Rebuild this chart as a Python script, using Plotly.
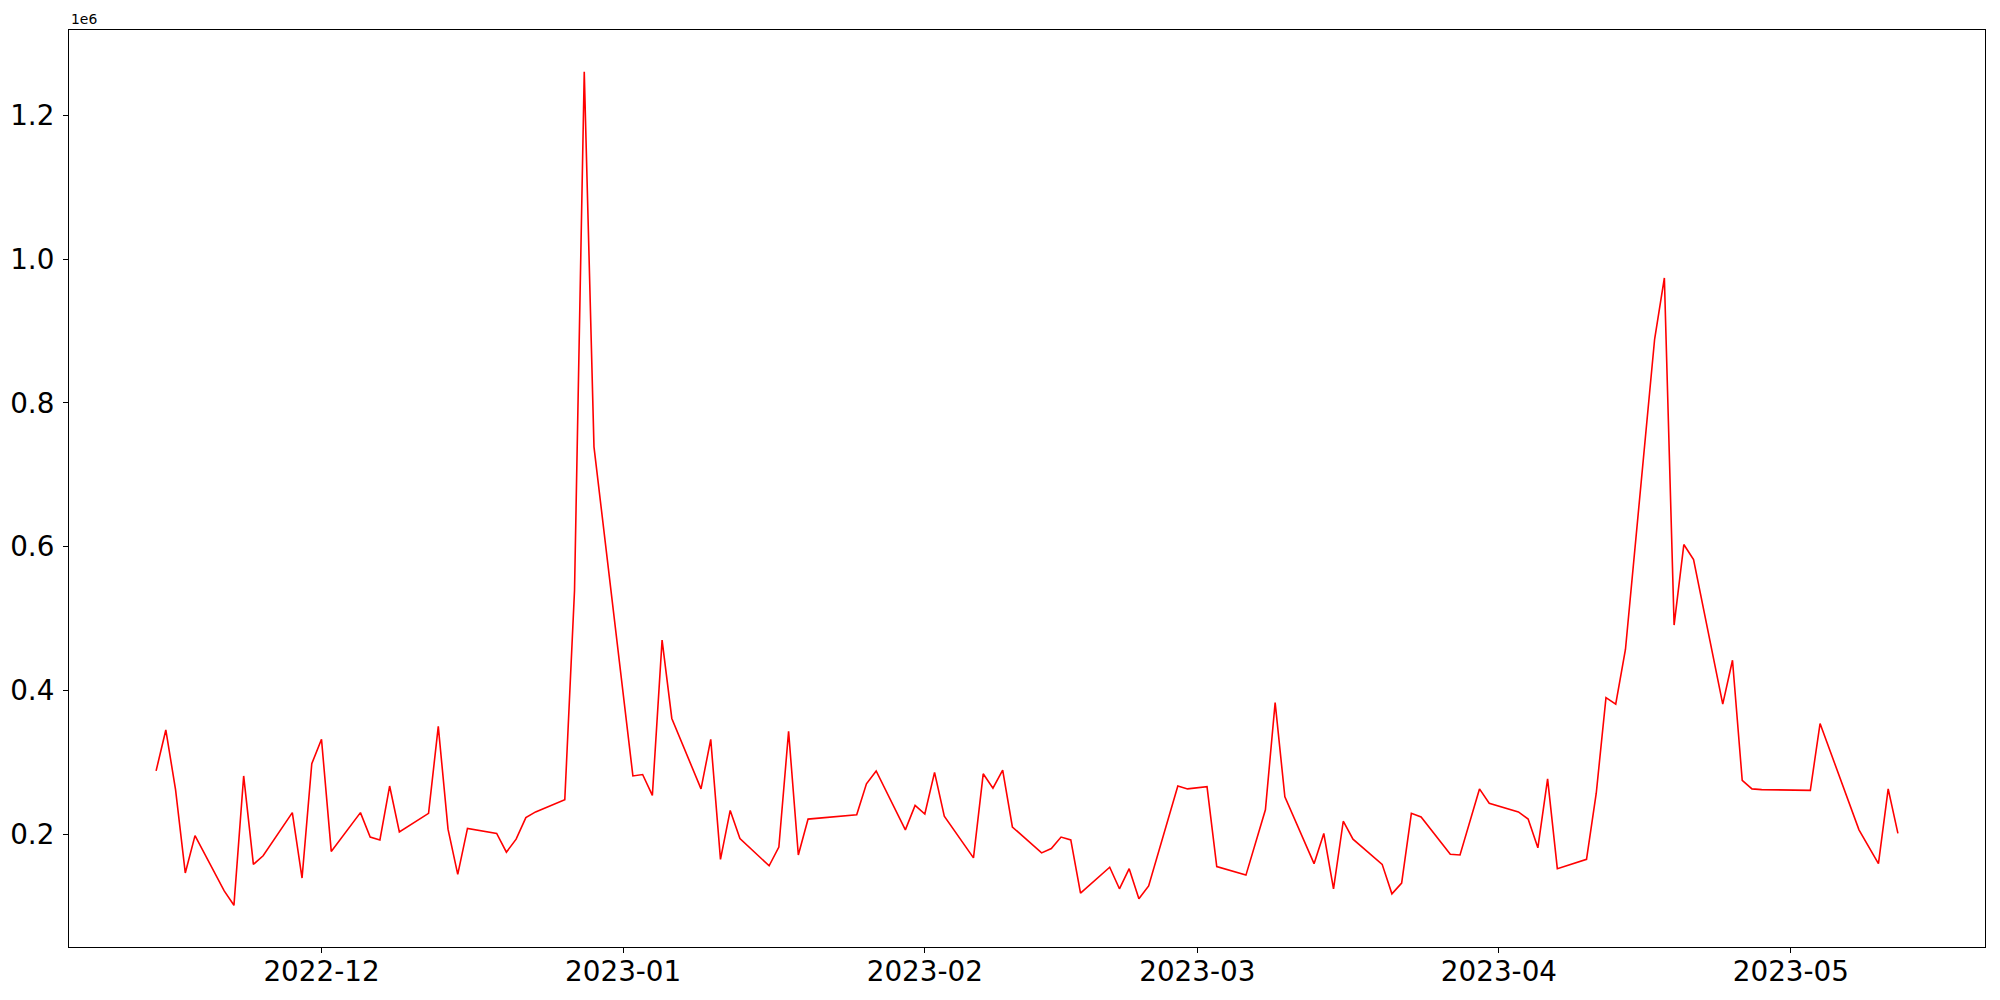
import pandas as pd
import plotly.graph_objects as go

# daily values (trading days only)
dates = [
    "2022-11-14", "2022-11-15", "2022-11-16", "2022-11-17", "2022-11-18",
    "2022-11-21", "2022-11-22", "2022-11-23", "2022-11-24", "2022-11-25",
    "2022-11-28", "2022-11-29", "2022-11-30", "2022-12-01", "2022-12-02",
    "2022-12-05", "2022-12-06", "2022-12-07", "2022-12-08", "2022-12-09",
    "2022-12-12", "2022-12-13", "2022-12-14", "2022-12-15", "2022-12-16",
    "2022-12-19", "2022-12-20", "2022-12-21", "2022-12-22", "2022-12-23",
    "2022-12-26", "2022-12-27", "2022-12-28", "2022-12-29",
    "2023-01-02", "2023-01-03", "2023-01-04", "2023-01-05", "2023-01-06",
    "2023-01-09", "2023-01-10", "2023-01-11", "2023-01-12", "2023-01-13",
    "2023-01-16", "2023-01-17", "2023-01-18", "2023-01-19", "2023-01-20",
    "2023-01-25", "2023-01-26", "2023-01-27",
    "2023-01-30", "2023-01-31", "2023-02-01", "2023-02-02", "2023-02-03",
    "2023-02-06", "2023-02-07", "2023-02-08", "2023-02-09", "2023-02-10",
    "2023-02-13", "2023-02-14", "2023-02-15", "2023-02-16", "2023-02-17",
    "2023-02-20", "2023-02-21", "2023-02-22", "2023-02-23", "2023-02-24",
    "2023-02-27", "2023-02-28", "2023-03-02", "2023-03-03",
    "2023-03-06", "2023-03-08", "2023-03-09", "2023-03-10",
    "2023-03-13", "2023-03-14", "2023-03-15", "2023-03-16", "2023-03-17",
    "2023-03-20", "2023-03-21", "2023-03-22", "2023-03-23", "2023-03-24",
    "2023-03-27", "2023-03-28", "2023-03-30", "2023-03-31",
    "2023-04-03", "2023-04-04", "2023-04-05", "2023-04-06", "2023-04-07",
    "2023-04-10", "2023-04-11", "2023-04-12", "2023-04-13", "2023-04-14",
    "2023-04-17", "2023-04-18", "2023-04-19", "2023-04-20", "2023-04-21",
    "2023-04-24", "2023-04-25", "2023-04-26", "2023-04-27", "2023-04-28",
    "2023-05-03", "2023-05-04", "2023-05-08", "2023-05-10", "2023-05-11",
    "2023-05-12",
]

values = [
    288000, 345000, 262000, 146000, 198000,
    121000, 101000, 281000, 158000, 170000,
    230000, 139000, 298000, 332000, 176000,
    230000, 196000, 192000, 267000, 203000,
    229000, 350000, 207000, 144000, 208000,
    201000, 175000, 193000, 223000, 231000,
    248000, 539000, 1261000, 739000,
    281000, 283000, 254000, 470000, 361000,
    263000, 332000, 165000, 233000, 194000,
    156000, 182000, 343000, 171000, 221000,
    227000, 270000, 288000,
    206000, 240000, 228000, 286000, 225000,
    167000, 284000, 264000, 289000, 210000,
    174000, 180000, 196000, 192000, 118000,
    154000, 124000, 152000, 110000, 128000,
    267000, 263000, 266000, 155000,
    143000, 234000, 383000, 252000,
    159000, 201000, 124000, 218000, 193000,
    158000, 117000, 132000, 229000, 224000,
    172000, 171000, 263000, 243000,
    231000, 221000, 181000, 277000, 152000,
    165000, 257000, 390000, 381000, 457000,
    889000, 974000, 491000, 603000, 582000,
    381000, 442000, 275000, 263000, 262000,
    261000, 354000, 206000, 159000, 263000,
    201000,
]

month_ticks = ["2022-12-01", "2023-01-01", "2023-02-01", "2023-03-01", "2023-04-01", "2023-05-01"]
month_labels = ["2022-12", "2023-01", "2023-02", "2023-03", "2023-04", "2023-05"]
y_ticks = [200000, 400000, 600000, 800000, 1000000, 1200000]
y_labels = ["0.2", "0.4", "0.6", "0.8", "1.0", "1.2"]

x = pd.to_datetime(dates)

# matplotlib-style 5% margins
x_pad = (x.max() - x.min()) * 0.05
y_pad = (max(values) - min(values)) * 0.05

fig = go.Figure()
fig.add_trace(
    go.Scatter(
        x=x,
        y=values,
        mode="lines",
        line=dict(color="red", width=1.6),
        showlegend=False,
    )
)

axis_style = dict(
    showgrid=False,
    zeroline=False,
    showline=True,
    mirror=True,
    automargin=False,
    linecolor="black",
    linewidth=1.1,
    ticks="outside",
    ticklen=5,
    tickwidth=1.1,
    tickcolor="black",
    tickfont=dict(family="DejaVu Sans", size=27.8, color="black"),
)

fig.update_xaxes(
    type="date",
    range=[x.min() - x_pad, x.max() + x_pad],
    tickvals=pd.to_datetime(month_ticks),
    ticktext=month_labels,
    ticklabelstandoff=-5,
    **axis_style,
)
fig.update_yaxes(
    range=[min(values) - y_pad, max(values) + y_pad],
    tickvals=y_ticks,
    ticktext=y_labels,
    ticklabelstandoff=3,
    **axis_style,
)

fig.add_annotation(
    text="1e6",
    xref="paper",
    yref="paper",
    x=0,
    y=1,
    xanchor="left",
    yanchor="bottom",
    yshift=1,
    showarrow=False,
    font=dict(family="DejaVu Sans", size=13.9, color="black"),
)

# page body has an 8px margin, so the figure is a bit smaller than the window
fig.update_layout(
    width=1992,
    height=992,
    paper_bgcolor="white",
    plot_bgcolor="white",
    margin=dict(l=61, r=15, t=22, b=53),
)

fig.write_html("out.html")
